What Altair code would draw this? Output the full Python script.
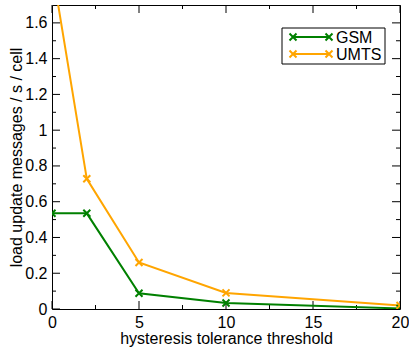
import altair as alt
import pandas as pd

thresholds = [0, 2, 5, 10, 20]
gsm = [0.535, 0.535, 0.088, 0.034, 0.003]
umts = [1.91, 0.728, 0.26, 0.09, 0.02]
series_names = ["GSM", "UMTS"]
series_colors = ["#008000", "#FFA500"]

x_major = [0, 5, 10, 15, 20]
x_minor = [2.5, 7.5, 12.5, 17.5]
y_major = [0, 0.2, 0.4, 0.6, 0.8, 1, 1.2, 1.4, 1.6]
y_minor = [0.1, 0.3, 0.5, 0.7, 0.9, 1.1, 1.3, 1.5]

rows = []
for name, vals in zip(series_names, [gsm, umts]):
    for t, v in zip(thresholds, vals):
        rows.append({"threshold": t, "value": v, "series": name})
df = pd.DataFrame(rows)

W, H = 348, 304
FONT = "Liberation Sans"
FS = 16
xs = alt.Scale(domain=[0, 20], nice=False, zero=False)
ys = alt.Scale(domain=[0, 1.7], nice=False, zero=False)
cs = alt.Scale(domain=series_names, range=series_colors)

x_axis = alt.Axis(values=x_major, format="~g", title="hysteresis tolerance threshold",
                  labelPadding=5, titlePadding=0, ticks=False, domain=False, grid=False,
                  labelFlush=False)
y_axis = alt.Axis(values=y_major, format="~g", title="load update messages / s / cell",
                  labelPadding=5, titlePadding=0, ticks=False, domain=False, grid=False,
                  labelFlush=False)

cross = "M-1,-1L1,1M-1,1L1,-1"

base = alt.Chart(df).encode(
    x=alt.X("threshold:Q", scale=xs, axis=x_axis),
    y=alt.Y("value:Q", scale=ys, axis=y_axis),
    color=alt.Color("series:N", scale=cs, legend=None),
)
lines = base.mark_line(strokeWidth=2, clip=True)
pts = base.mark_point(shape=cross, size=49, filled=False, strokeWidth=2, opacity=1, clip=True)

xmaj = pd.DataFrame({"threshold": x_major})
xmin = pd.DataFrame({"threshold": x_minor})
ymaj = pd.DataFrame({"value": y_major})
ymin = pd.DataFrame({"value": y_minor})

def xticks(d, L):
    b = alt.Chart(d).mark_rule(color="black", strokeWidth=1)
    enc_x = alt.X("threshold:Q", scale=xs, axis=x_axis)
    return (b.encode(x=enc_x, y=alt.value(H), y2=alt.value(H - L)) +
            b.encode(x=enc_x, y=alt.value(0), y2=alt.value(L)))

def yticks(d, L):
    b = alt.Chart(d).mark_rule(color="black", strokeWidth=1)
    enc_y = alt.Y("value:Q", scale=ys, axis=y_axis)
    return (b.encode(y=enc_y, x=alt.value(0), x2=alt.value(L)) +
            b.encode(y=enc_y, x=alt.value(W), x2=alt.value(W - L)))

# legend, drawn by hand in a box at the upper right
leg_df = pd.DataFrame({"series": series_names})
LX0, LX1, LY0, LY1 = 230, 333, 23, 59
SX0, SX1, ROW0, ROWH = 241, 277, 32, 17
leg_layers = [
    alt.Chart(leg_df.head(1)).mark_rect(fill="white", stroke="black", strokeWidth=1).encode(
        x=alt.value(LX0), x2=alt.value(LX1), y=alt.value(LY0), y2=alt.value(LY1))
]
for i, name in enumerate(series_names):
    d = leg_df[leg_df.series == name]
    yy = ROW0 + ROWH * i
    col = alt.Color("series:N", scale=cs, legend=None)
    leg_layers.append(alt.Chart(d).mark_rule(strokeWidth=2).encode(
        x=alt.value(SX0), x2=alt.value(SX1), y=alt.value(yy), color=col))
    for sx in (SX0, SX1):
        leg_layers.append(alt.Chart(d).mark_point(shape=cross, size=49, filled=False,
                                                   strokeWidth=2, opacity=1).encode(
            x=alt.value(sx), y=alt.value(yy), color=col))
    leg_layers.append(alt.Chart(d).mark_text(align="left", baseline="middle", font=FONT,
                                             fontSize=FS, color="black").encode(
        x=alt.value(284), y=alt.value(yy + 1), text="series:N"))

chart = alt.layer(
    xticks(xmaj, 8), xticks(xmin, 4), yticks(ymaj, 8), yticks(ymin, 4), lines, pts,
    *leg_layers
).properties(
    width=W, height=H, autosize="none",
    padding={"left": 52, "top": 5, "right": 9, "bottom": 44},
).configure(
    background="white",
    view=alt.ViewConfig(stroke="black", strokeWidth=1),
    axis=alt.AxisConfig(
        labelFont=FONT, labelFontSize=FS, labelColor="black",
        titleFont=FONT, titleFontSize=FS, titleFontWeight="normal", titleColor="black",
    ),
)

chart.save("out.html", embed_options={"renderer": "svg", "actions": False})
